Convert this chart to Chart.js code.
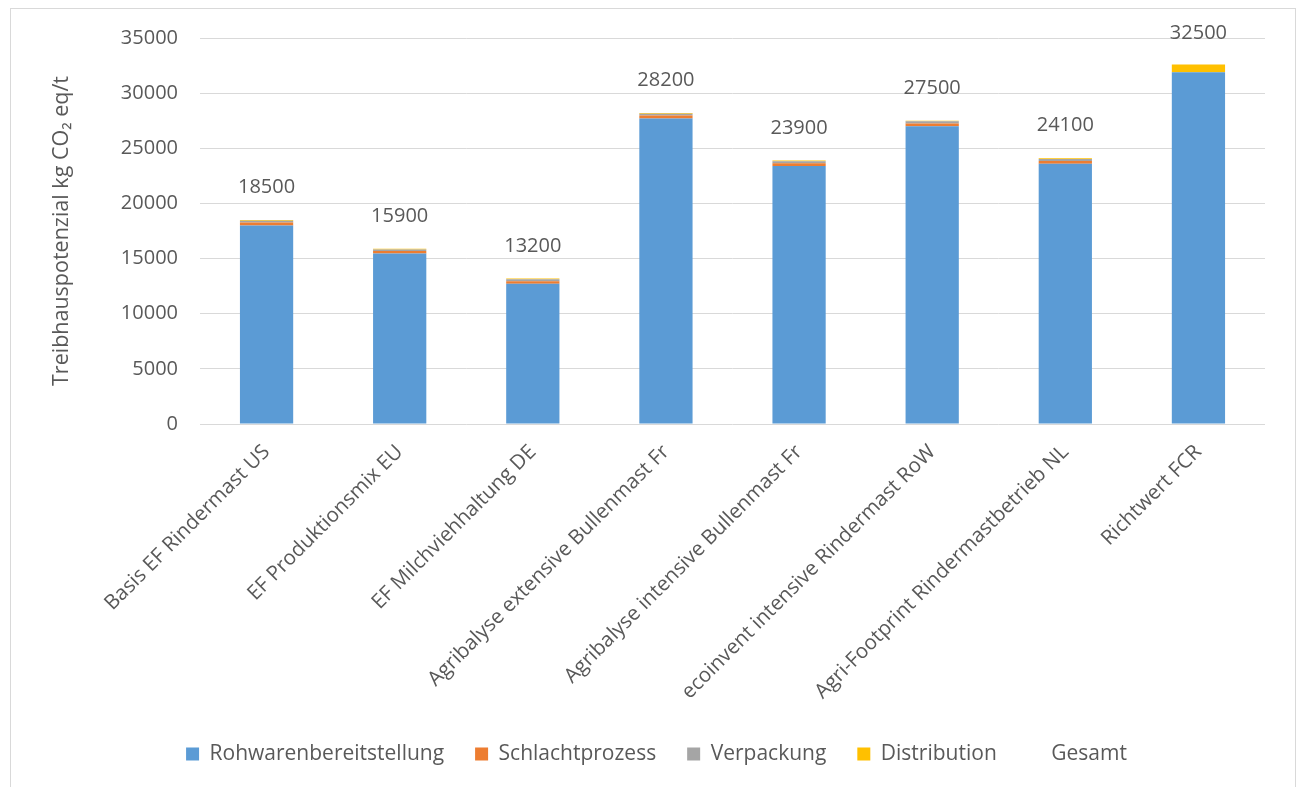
<!DOCTYPE html>
<html>
<head>
<meta charset="utf-8">
<script src="https://cdn.jsdelivr.net/npm/chart.js@4/dist/chart.umd.min.js"></script>
<style>
  html, body { margin: 0; padding: 0; background: #ffffff; }
  #wrap { position: relative; width: 1301px; height: 787px; }
</style>
</head>
<body>
<div id="wrap"><canvas id="c" width="1301" height="787"></canvas></div>
<script>
const categories = [
  "Basis EF Rindermast US",
  "EF Produktionsmix EU",
  "EF Milchviehhaltung DE",
  "Agribalyse extensive Bullenmast Fr",
  "Agribalyse intensive Bullenmast Fr",
  "ecoinvent intensive Rindermast RoW",
  "Agri-Footprint Rindermastbetrieb NL",
  "Richtwert FCR"
];
const rohwaren     = [18000, 15450, 12720, 27700, 23400, 27000, 23600, 31900];
const schlacht     = [270, 230, 220, 270, 250, 250, 250, -100];
const verpackung   = [160, 150, 180, 160, 180, 200, 180, 0];
const distribution = [70, 70, 80, 70, 70, 50, 70, 700];
const gesamt       = [18500, 15900, 13200, 28200, 23900, 27500, 24100, 32500];
const yTicks = { min: 0, max: 35000, step: 5000 };

const FONT = "'Open Sans', 'DejaVu Sans', sans-serif";
const TXT = "#595959";

const framePlugin = {
  id: "frame",
  beforeDraw(chart) {
    const ctx = chart.ctx;
    ctx.save();
    ctx.fillStyle = "#ffffff";
    ctx.fillRect(0, 0, chart.width, chart.height);
    ctx.strokeStyle = "#d9d9d9";
    ctx.lineWidth = 1;
    ctx.strokeRect(10.5, 8.5, 1285, 800);
    ctx.restore();
  }
};

const totalLabels = {
  id: "totalLabels",
  afterDatasetsDraw(chart) {
    const idx = chart.data.datasets.findIndex(d => d.label === "Gesamt");
    const meta = chart.getDatasetMeta(idx);
    const ctx = chart.ctx;
    ctx.save();
    ctx.font = "20px " + FONT;
    ctx.fillStyle = TXT;
    ctx.textAlign = "center";
    ctx.textBaseline = "middle";
    meta.data.forEach((pt, i) => {
      ctx.fillText(String(gesamt[i]), pt.x, pt.y - 32.5);
    });
    ctx.restore();
  }
};

new Chart(document.getElementById("c"), {
  data: {
    labels: categories,
    datasets: [
      { type: "bar", label: "Rohwarenbereitstellung", data: rohwaren, backgroundColor: "#5B9BD5", stack: "s" },
      { type: "bar", label: "Schlachtprozess", data: schlacht, backgroundColor: "#ED7D31", stack: "s" },
      { type: "bar", label: "Verpackung", data: verpackung, backgroundColor: "#A5A5A5", stack: "s" },
      { type: "bar", label: "Distribution", data: distribution, backgroundColor: "#FFC000", stack: "s" },
      { type: "line", label: "Gesamt", data: gesamt, stack: "g", showLine: false, pointRadius: 0,
        backgroundColor: "rgba(0,0,0,0)", borderColor: "rgba(0,0,0,0)" }
    ]
  },
  options: {
    responsive: false,
    animation: false,
    events: [],
    layout: { padding: { top: 38, left: 48, right: 36, bottom: 12.5 } },
    datasets: { bar: { barPercentage: 0.4, categoryPercentage: 1.0, borderWidth: 0 } },
    scales: {
      x: {
        stacked: true,
        grid: { display: false },
        border: { display: false },
        ticks: { color: TXT, font: { family: FONT, size: 20.5 }, maxRotation: 45, minRotation: 45, autoSkip: false, padding: 8 },
        afterFit(s) { s.height = 288.5; }
      },
      y: {
        stacked: true,
        min: yTicks.min, max: yTicks.max,
        grid: { color: "#d9d9d9", drawTicks: false, lineWidth: 1 },
        border: { display: false },
        ticks: { stepSize: yTicks.step, color: TXT, font: { family: FONT, size: 20 }, padding: 22,
                 callback: v => String(v) },
        title: { display: true, text: "Treibhauspotenzial kg CO\u2082 eq/t", color: TXT, font: { family: FONT, size: 21.5 }, padding: { top: 1, bottom: 0 } },
        afterFit(s) { s.width = 152; }
      }
    },
    plugins: {
      tooltip: { enabled: false },
      legend: {
        position: "bottom",
        labels: {
          color: TXT, font: { family: FONT, size: 21 },
          boxWidth: 13, boxHeight: 13, padding: 31,
          sort: (a, b) => a.datasetIndex - b.datasetIndex
        }
      }
    }
  },
  plugins: [framePlugin, totalLabels]
});
</script>
</body>
</html>
